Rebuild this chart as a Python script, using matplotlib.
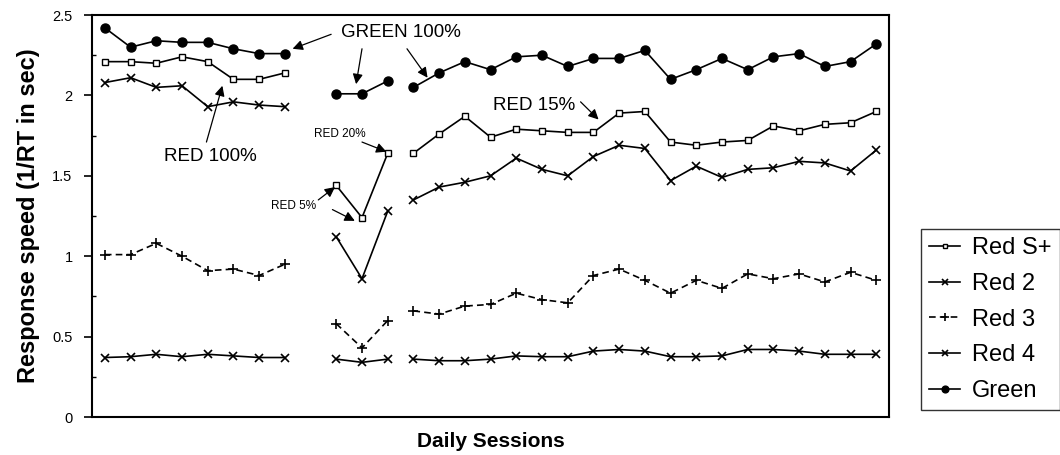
import numpy as np
import matplotlib
import matplotlib.pyplot as plt

matplotlib.use("Agg")

plt.rcParams["font.family"] = ["Liberation Sans", "DejaVu Sans"]

# Session index 8 is a gap; sessions 0-7, 9-11 and 12-30 are separate phases.
SESSIONS = np.arange(31)
PHASES = [(0, 8), (9, 12), (12, 31)]
GAP = np.nan

red_splus = [2.21, 2.21, 2.20, 2.24, 2.21, 2.10, 2.10, 2.14, GAP,
             1.44, 1.24, 1.64,
             1.64, 1.76, 1.87, 1.74, 1.79, 1.78, 1.77, 1.77, 1.89, 1.90,
             1.71, 1.69, 1.71, 1.72, 1.81, 1.78, 1.82, 1.83, 1.90]
red_2 = [2.08, 2.11, 2.05, 2.06, 1.93, 1.96, 1.94, 1.93, GAP,
         1.12, 0.86, 1.28,
         1.35, 1.43, 1.46, 1.50, 1.61, 1.54, 1.50, 1.62, 1.69, 1.67,
         1.47, 1.56, 1.49, 1.54, 1.55, 1.59, 1.58, 1.53, 1.66]
red_3 = [1.01, 1.01, 1.08, 1.00, 0.91, 0.92, 0.88, 0.95, GAP,
         0.58, 0.43, 0.60,
         0.66, 0.64, 0.69, 0.70, 0.77, 0.73, 0.71, 0.88, 0.92, 0.85,
         0.77, 0.85, 0.80, 0.89, 0.86, 0.89, 0.84, 0.90, 0.85]
red_4 = [0.37, 0.375, 0.39, 0.375, 0.39, 0.38, 0.37, 0.37, GAP,
         0.36, 0.34, 0.36,
         0.36, 0.35, 0.35, 0.36, 0.38, 0.375, 0.375, 0.41, 0.42, 0.41,
         0.375, 0.375, 0.38, 0.42, 0.42, 0.41, 0.39, 0.39, 0.39]
green = [2.42, 2.30, 2.34, 2.33, 2.33, 2.29, 2.26, 2.26, GAP,
         2.01, 2.01, 2.09,
         2.05, 2.14, 2.21, 2.16, 2.24, 2.25, 2.18, 2.23, 2.23, 2.28,
         2.10, 2.16, 2.23, 2.16, 2.24, 2.26, 2.18, 2.21, 2.32]

SERIES = [
    ("Red S+", red_splus, dict(marker="s", ms=4.5, mfc="white", ls="-")),
    ("Red 2", red_2, dict(marker="x", ms=6, mew=1.2, ls="-")),
    ("Red 3", red_3, dict(marker="+", ms=7, mew=1.2, ls=(0, (4, 2.5)))),
    ("Red 4", red_4, dict(marker="x", ms=6, mew=1.2, ls="-")),
    ("Green", green, dict(marker="o", ms=6.5, ls="-")),
]

fig = plt.figure(figsize=(10.6, 4.55), dpi=100)
ax = fig.add_axes([0.0868, 0.0835, 0.752, 0.8835])

handles = []
for name, values, style in SERIES:
    values = np.asarray(values, dtype=float)
    for k, (a, b) in enumerate(PHASES):
        line, = ax.plot(SESSIONS[a:b], values[a:b], color="black", lw=1.2,
                        mec="black", label=name if k == 0 else None, **style)
        if k == 0:
            handles.append(line)

# Condition labels with arrows
arrow = dict(arrowstyle="-|>", color="black", lw=0.9, mutation_scale=15,
             shrinkA=0, shrinkB=0)
ax.text(11.5, 2.39, "GREEN 100%", ha="center", va="center", fontsize=13.5)
ax.annotate("", xy=(7.3, 2.29), xytext=(8.8, 2.38), arrowprops=arrow)
ax.annotate("", xy=(9.77, 2.07), xytext=(10.0, 2.29), arrowprops=arrow)
ax.annotate("", xy=(12.55, 2.11), xytext=(11.75, 2.29), arrowprops=arrow)

ax.text(4.1, 1.62, "RED 100%", ha="center", va="center", fontsize=13.5)
ax.annotate("", xy=(4.57, 2.06), xytext=(3.95, 1.71), arrowprops=arrow)

ax.text(9.15, 1.76, "RED 20%", ha="center", va="center", fontsize=8.5)
ax.annotate("", xy=(10.95, 1.65), xytext=(10.0, 1.71), arrowprops=arrow)

ax.text(7.33, 1.31, "RED 5%", ha="center", va="center", fontsize=8.5)
ax.annotate("", xy=(8.95, 1.43), xytext=(8.3, 1.35), arrowprops=arrow)
ax.annotate("", xy=(9.72, 1.22), xytext=(8.85, 1.29), arrowprops=arrow)

ax.text(16.7, 1.94, "RED 15%", ha="center", va="center", fontsize=13.5)
ax.annotate("", xy=(19.2, 1.85), xytext=(18.5, 1.96), arrowprops=arrow)

ax.set_xlim(-0.5, 30.5)
ax.set_ylim(0, 2.5)
ax.set_xticks([])
ax.set_yticks([0, 0.5, 1, 1.5, 2, 2.5])
ax.set_yticklabels(["0", "0.5", "1", "1.5", "2", "2.5"])
ax.set_yticks(np.arange(0.25, 2.5, 0.5), minor=True)
ax.tick_params(axis="y", which="major", direction="out", length=6, width=1.2,
               labelsize=10.5, pad=8)
ax.tick_params(axis="y", which="minor", direction="in", length=3, width=1)
for sp in ax.spines.values():
    sp.set_linewidth(1.5)

ax.set_ylabel("Response speed (1/RT in sec)", fontsize=17,
              fontweight="bold", labelpad=9)
ax.set_xlabel("Daily Sessions", fontsize=15, fontweight="bold", labelpad=11)

fig.legend(handles=handles, loc="upper left",
           bbox_to_anchor=(921 / 1060, 1 - 229 / 455),
           bbox_transform=fig.transFigure, frameon=True, fancybox=False,
           edgecolor="black", fontsize=17, handlelength=1.3,
           handletextpad=0.5, labelspacing=0.58, borderpad=0.35,
           borderaxespad=0, markerscale=0.75)

fig.savefig("out.png", dpi=100, facecolor="white")
